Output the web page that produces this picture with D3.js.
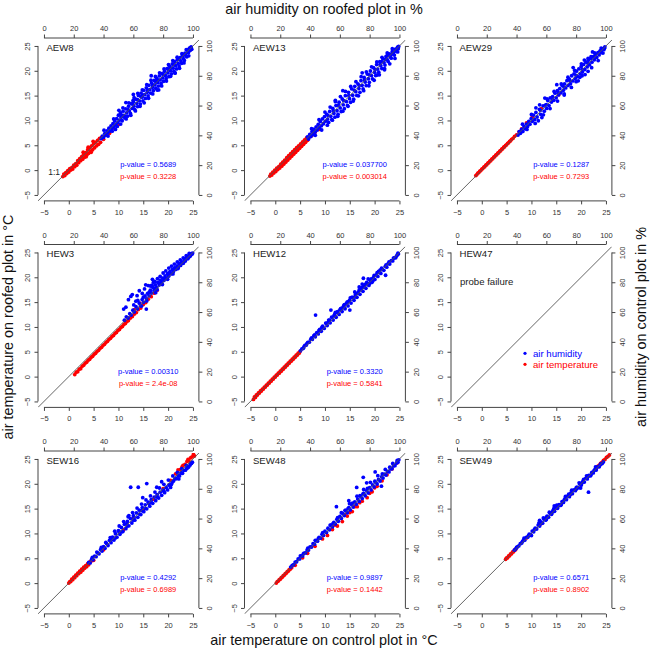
<!DOCTYPE html>
<html><head><meta charset="utf-8">
<script src="https://cdn.jsdelivr.net/npm/d3@7"></script>
<style>body{margin:0;background:#fff}svg{display:block}text{font-family:"Liberation Sans",Arial,Helvetica,sans-serif}</style>
</head><body><svg id="c" width="651" height="652"></svg>
<script>
// ---------- DATA ----------
const panelNames = ["AEW8","AEW13","AEW29","HEW3","HEW12","HEW47","SEW16","SEW48","SEW49"];
const pValueHumidity = ["0.5689","0.037700","0.1287","0.00310","0.3320",null,"0.4292","0.9897","0.6571"];
const pValueTemperature = ["0.3228","0.003014","0.7293","2.4e-08","0.5841",null,"0.6989","0.1442","0.8902"];
const temperatureTicks = [-5,0,5,10,15,20,25];
const humidityTicks = [0,20,40,60,80,100];
const legendLabels = ["air humidity","air temperature"];

// air humidity (%): [control, roofed]
const humAEW8 = [[38.5,37.8],[39.2,39.5],[40,38.6],[40.8,41.2],[41.5,40.1],[42.3,43],[42.9,41.6],[43.6,44.8],[44.2,42.9],[45,46.3],[45.6,44.5],[46.3,47.9],[47,45.8],[47.5,49.6],[48.2,47.1],[48.8,51.2],[49.5,48.6],[50,53.5],[50.6,50.2],[51.3,55],[51.8,52.1],[52.5,49.8],[53.1,56.2],[53.6,53.4],[54.3,51.7],[54.9,57.8],[55.4,55.1],[56.1,52.9],[56.8,59.6],[57.3,56.4],[58,54.7],[58.6,61.2],[59.2,58.1],[59.9,63.5],[60.4,59.6],[61,57.2],[61.7,64.3],[62.3,61.5],[62.9,59.3],[63.4,66.8],[64.1,63.2],[64.7,61],[65.2,68.4],[65.8,65.6],[66.4,63.1],[67,70.2],[67.6,67.4],[68.1,64.8],[68.7,71.9],[69.3,68.9],[69.9,66.5],[70.4,73.6],[71,70.7],[71.6,68.4],[72.2,75.1],[72.8,72.3],[73.4,70],[73.9,76.8],[74.5,73.9],[75.1,71.6],[75.7,78.2],[76.3,75.5],[76.8,73.1],[77.4,79.9],[78,77.2],[78.6,74.8],[79.1,81.4],[79.7,78.6],[80.3,76.3],[80.9,83],[81.5,80.2],[82,78],[82.6,84.8],[83.2,81.9],[83.8,79.4],[84.3,86.3],[84.9,83.5],[85.5,81.2],[86.1,87.9],[86.7,85.1],[87.2,83],[87.8,89.4],[88.4,86.8],[89,84.6],[89.5,90.8],[90.1,88.3],[90.7,86.5],[91.3,92.1],[91.9,89.9],[92.4,88.4],[93,93.6],[93.6,91.5],[94.2,90.3],[94.7,95.2],[95.3,93.4],[95.9,92.7],[96.5,97.4],[97,95.6],[97.6,98.5],[98.2,97.1],[98.8,99.3],[60,67.5],[72,80],[88,82],[77,70.5],[55,62],
[40.3,43.5],[43,39.5],[46.8,51],[48,44],[50.3,56.8],[51.5,47.6],[53,58.5],[55.2,51],[57,61.8],[58.3,53.5],[60.5,65.3],[61.4,56.4],[63,68.2],[64.5,59.5],[66,70.5],[67.3,61.8],[69,74],[70.2,64.9],[71.8,77],[73,67.8],[74.8,79.5],[76,70.4],[77.6,82],[79,73.2],[80.6,84.6],[82.2,76.4],[83.6,87.5],[85,79.6],[86.5,90.2],[88,81.7],[89.4,92.5],[91,85],[92.6,94.8],[94,88.6],[95.5,97.5],[97.2,93.4],[52.2,53.6],[56.5,57.2],[59.6,61.1],[62.8,64],[66.2,66.9],[69.6,70.4],[73,73.8],[76.6,77.1],[80,80.9],[83.5,84.1],[87,87.4],[90.5,91],[93.8,94.1],[96.7,96.2],[45.8,42.8],[49.2,46],[54,53],[60,62.5],[65,66],[75,76.2],[85,85.3],[95,94.6],[98.5,98.9],[99.2,97.8]];
const humAEW13 = [[38.2,38.9],[39,37.5],[39.8,40.6],[40.5,39.2],[41.3,42.4],[42,40.5],[42.7,44.1],[43.4,42.2],[44.1,45.7],[44.8,43.6],[45.5,47.4],[46.2,45.1],[46.9,49.3],[47.6,46.4],[48.3,51],[49,47.8],[49.7,52.6],[50.4,49.5],[51.1,54.3],[51.8,50.9],[52.5,48.7],[53.2,56],[53.9,52.8],[54.6,50.6],[55.3,58.1],[56,54.7],[56.7,52.2],[57.4,60],[58.1,56.5],[58.8,54.1],[59.5,62.3],[60.2,58.4],[60.9,56],[61.6,64.4],[62.3,60.5],[63,57.9],[63.7,66.6],[64.4,62.7],[65.1,60.1],[65.8,68.9],[66.5,64.6],[67.2,62.2],[67.9,71.2],[68.6,66.9],[69.3,64.3],[70,72.9],[70.7,69.3],[71.4,66.8],[72.1,74.6],[72.8,71.4],[73.5,68.9],[74.2,76.7],[74.9,73.6],[75.6,71.1],[76.3,78.9],[77,75.8],[77.7,73.4],[78.4,81.1],[79.1,78],[79.8,75.6],[80.5,83.2],[81.2,80.1],[81.9,77.9],[82.6,85.4],[83.3,82.3],[84,80.1],[84.7,87.5],[85.4,84.5],[86.1,82.4],[86.8,89.4],[87.5,86.7],[88.2,84.8],[88.9,91.3],[89.6,88.9],[90.3,87.2],[91,93],[91.7,90.9],[92.4,89.6],[93.1,94.6],[93.8,92.7],[94.5,91.8],[95.2,96.3],[95.9,94.5],[96.6,93.9],[97.3,97.8],[98,96.4],[98.7,99.2],[99.2,98.1],[62,70],[75,82],[85,80.5],[57,63.5],[90,84.8],
[41,44.5],[43.5,40],[46,50.5],[47.8,43.6],[50,55.6],[51.6,46.8],[53.5,59],[55,50.2],[57,62.6],[58.6,52.8],[60.4,66],[62,56.2],[63.8,69.5],[65.5,59.5],[67.3,72.8],[69,63],[70.8,76],[72.5,66.5],[74.3,79.4],[76,70],[77.8,82.6],[79.5,73.3],[81.3,86],[83,77],[84.8,89.3],[86.5,80.6],[88.3,92.4],[90,84],[91.8,95.3],[93.5,88],[95.2,98.2],[97,91.6],[98.8,96],[52,53.4],[55.6,56.5],[59,60.2],[62.6,63.3],[66,66.8],[69.6,70.4],[73,73.5],[76.6,77.2],[80,80.6],[83.6,84.2],[87,87.5],[90.6,91],[94,94.3],[97.5,97.3],[99.5,99.7],[88,89.5],[92,93.7],[96,95.6]];
const humAEW29 = [[41,40.2],[41.8,42.5],[42.6,41.4],[43.4,44],[44.2,42.6],[45,45.8],[45.8,44.4],[46.6,47.6],[47.4,46],[48.2,49.3],[49,47.5],[49.8,51.2],[50.6,49.4],[51.4,53.6],[52.2,50.7],[53,55.4],[53.8,52.3],[54.6,49.8],[55.4,57.5],[56.2,54.1],[57,51.9],[57.8,59.8],[58.6,56.2],[59.4,60.3],[60.2,58.1],[61,63.4],[61.8,60],[62.6,65.1],[63.4,62.4],[64.2,66],[65,63.5],[65.8,68.3],[66.6,65.2],[67.4,70],[68.2,67.1],[69,71.3],[69.8,68.6],[70.6,73.4],[71.4,70.2],[72.2,74.5],[73,71.8],[73.8,76.7],[74.6,73.5],[75.4,77.8],[76.2,74.6],[77,80],[77.8,76.5],[78.6,81.3],[79.4,78.2],[80.2,83.1],[81,79.4],[81.8,84.6],[82.6,81.3],[83.4,86.2],[84.2,82.5],[85,87.6],[85.8,84.2],[86.6,89.1],[87.4,85.9],[88.2,90.4],[89,87.3],[89.8,91.6],[90.6,89.1],[91.4,92.9],[92.2,90.7],[93,94.2],[93.8,92.3],[94.6,95.5],[95.4,94],[96.2,96.9],[97,95.6],[97.8,98.1],[98.6,97.5],[99.3,99.4],[59,65],[67,74],[80,76],[84,80],[88,83],[72,67],[53,58.5],[91,96],
[44,47.5],[47,44],[50,54],[52.5,48],[55.5,60.5],[58,53.8],[60.5,64.5],[62.5,58],[65.2,69.5],[67.5,63],[70,74.5],[72,67.8],[74.5,79],[76.8,72.2],[79,83.6],[81.4,76.6],[83.5,88],[86,80.8],[88,91.6],[90.4,85.4],[92.4,95.3],[94.8,90.2],[96.8,98.6],[98,95.2],[56,56.8],[60,60.6],[64,64.5],[68,68.6],[72,72.3],[76,76.4],[80,80.2],[84,84.3],[88,88.2],[92,92.1],[96,96.1],[99,98.4],[85.5,90.5],[78,85.5],[82.5,79],[90,92.8]];
const humHEW3 = [[54,54.5],[55.3,56.8],[56.5,56],[57.6,58.9],[58.5,58],[59.7,61.2],[60.6,60.1],[61.8,63.6],[62.7,62.2],[63.9,66],[64.8,64.3],[65.9,68.4],[66.8,66.5],[67.9,70.8],[68.8,68.9],[69.6,72.6],[70.5,70.9],[71.4,74.7],[72.2,72.8],[73.1,76.4],[74,74.6],[74.8,78.3],[75.6,76.4],[76.5,79.9],[77.3,78.1],[78.1,81.4],[78.9,79.8],[79.7,82.8],[80.5,81.2],[81.3,84.2],[82.1,82.6],[82.9,85.7],[83.7,84.1],[84.5,87.1],[85.3,85.6],[86.1,88.4],[86.9,87.2],[87.7,89.7],[88.5,88.6],[89.3,90.9],[90.1,89.9],[90.9,92.3],[91.7,91.3],[92.5,93.6],[93.3,92.7],[94.1,95],[94.9,94.2],[95.7,96.5],[96.5,95.7],[97.3,97.8],[98.1,97.4],[98.9,99.2],[99.5,98.9],[53.5,62],[55,63.3],[56.7,68.3],[58.3,70.5],[59.3,71.7],[61.7,67.3],[62.5,71],[64,74.3],[66.7,70],[68.3,78.3],[70.7,73.3],[71.5,77.5],[73.5,80],[75,73],[65.5,64],[69,67.5],[68.7,62],
[72.5,78],[74.5,80.5],[76.2,82.5],[78,84],[80,86.2],[81.8,87.6],[83.8,89.5],[85.6,90.8],[87.5,92.2],[89.5,93.6],[91.5,95],[93.5,96.4],[95.5,97.8],[97.5,99.3],[76,75],[79.5,78.5],[83,82],[86.6,85.6],[90,89.2],[93.6,92.9],[97,96.5],[99.8,99.6],[74.5,76],[77.5,79],[81,82.5],[84.5,86],[88,89.4],[91.5,92.6],[95,95.8],[98.5,98.5],[63,67.8],[66,72.5],[60.3,64.8],[67.5,75.5],[72.8,82],[70,77.8]];
const humHEW12 = [[33.5,34],[34.5,35.2],[35.5,35.7],[36.5,37.6],[37.5,37.9],[38.5,39.7],[39.5,39.8],[40.5,41.8],[41.5,41.6],[42.5,44],[43.5,43.4],[44.5,46.2],[45.5,45.3],[46.5,48.4],[47.5,47.1],[48.5,50.5],[49.5,49],[50.5,52.6],[51.5,50.9],[52.5,54.6],[53.5,52.8],[54.5,56.5],[55.5,54.6],[56.5,58.4],[57.5,56.5],[58.5,60.3],[59.5,58.4],[60.5,62.2],[61.5,60.3],[62.5,64.1],[63.5,62.2],[64.5,66],[65.5,64.1],[66.5,67.9],[67.5,66],[68.5,69.8],[69.5,67.9],[70.5,71.7],[71.5,69.9],[72.5,73.6],[73.5,71.9],[74.5,75.5],[75.5,73.9],[76.5,77.4],[77.5,75.9],[78.5,79.3],[79.5,77.9],[80.5,81.2],[81.5,79.9],[82.5,83.1],[83.5,81.9],[84.5,85],[85.5,83.9],[86.5,86.9],[87.5,85.9],[88.5,88.8],[89.5,88],[90.5,90.7],[91.5,90.1],[92.5,92.6],[93.5,92.2],[94.5,94.5],[95.5,94.3],[96.5,96.4],[97.5,96.4],[98.5,98.3],[99.3,99],[52,52.9],[57,59.8],[62,62.9],[67,69.5],[72,72.6],[77,78.6],[82,80.6],[87,88.1],[60,61.5],[65,66.8],[70,70.1],[75,76.5],[80,79.2],[85,86.4],[43.7,58],[54,61.3],[66.7,61.3],[75.8,82.7],[90.7,84.7],
[36,36.8],[41,42.6],[46,47.7],[51,52.4],[56,57.4],[61,62.5],[66,67.2],[71,72.3],[76,77],[81,82.2],[86,87.3],[91,91.6],[96,96.2],[99,99.6],[38,39],[43,44.7],[48,49.8],[53,54.6],[58,59.8],[63,64.9],[68,69.9],[73,74.8],[78,79.9],[83,84.6],[88,89.4],[93,93.6],[98,97.6],[70,73.5],[75,78.8],[79,82.2],[73,76.8]];
const humHEW47 = [];
const humSEW16 = [[30,30.5],[31,30.2],[32,32.6],[33,32.3],[34,34.8],[35,34.4],[36,36.9],[37,36.3],[38,39.1],[39,38.2],[40,41.2],[41,40],[42,43.3],[43,41.9],[44,45.4],[45,43.8],[46,47.6],[47,45.6],[48,49.8],[49,47.5],[50,51.9],[51,49.4],[52,54],[53,51.3],[54,56.1],[55,53.2],[56,58.1],[57,55.1],[58,60],[59,57],[60,61.9],[61,58.9],[62,63.8],[63,60.8],[64,65.6],[65,62.7],[66,67.4],[67,64.6],[68,69.2],[69,66.5],[70,71],[71,68.3],[72,72.7],[73,70.2],[74,74.4],[75,72],[76,76.1],[77,73.8],[78,77.7],[79,75.6],[80,79.3],[81,77.4],[82,80.9],[83,79.2],[84,82.5],[85,80.9],[86,84],[87,85.2],[88,87],[89,86.8],[90,88.8],[91,88.6],[92,90.8],[93,90.4],[94,92.4],[95,92.5],[96,93.8],[97,94.5],[98,95.8],[99,97],[99.6,97.8],[55.5,56.5],[60.5,60.6],[65.5,65.3],[70.5,69.9],[75.5,74.5],[80.5,78.6],[85.5,82.8],[90.5,86.6],[45.5,46],[50.5,50.8],[63.3,81],[75.7,81],[66.3,74],[79,84.7],[57,62],
[32.5,34],[35.5,37.5],[38.5,40.6],[41.5,44],[44.5,47.2],[47.5,51.5],[50.5,55],[53.5,58],[56.5,61.2],[59.5,64],[62.5,67],[65.5,69.7],[68.5,72.5],[71.5,75.2],[74.5,77.8],[77.5,80.5],[80.5,83],[83.5,85.8],[86.5,88.6],[89.5,91],[92.5,93.5],[95.5,95.6],[98.5,97.2],[48,47],[52,51],[56,55],[60,59],[64,63],[68,66.8],[72,70.8],[76,74.6],[80,78.6],[84,82.6],[88,86.6],[92,90.5],[96,93.8],[58.2,81],[69,83.5]];
const humSEW48 = [[27,27.4],[28,28.5],[29,29.1],[30,30.8],[31,31],[32,32.9],[33,32.9],[34,34.8],[35,34.9],[36,36.8],[37,36.9],[38,38.9],[39,38.9],[40,41],[41,40.9],[42,43.1],[43,42.8],[44,45.2],[45,44.8],[46,47.3],[47,46.8],[48,49.4],[49,48.7],[50,51.5],[51,50.6],[52,53.5],[53,52.5],[54,55.5],[55,54.4],[56,57.5],[57,56.3],[58,59.5],[59,58.2],[60,61.5],[61,60.1],[62,63.5],[63,62],[64,65.4],[65,63.9],[66,67.4],[67,65.8],[68,69.3],[69,67.7],[70,71.2],[71,69.6],[72,73.1],[73,71.5],[74,75],[75,73.4],[76,76.9],[77,75.3],[78,78.8],[79,77.2],[80,80.7],[81,79.2],[82,82.6],[83,81.2],[84,84.4],[85,83.2],[86,86.2],[87,85.2],[88,88],[89,87.2],[90,89.8],[91,89.2],[92,91.6],[93,91.3],[94,93.4],[95,93.4],[96,95.3],[97,95.5],[98,97.3],[99,97.8],[99.6,99.4],[35.5,36.3],[45.5,46.5],[55.5,56.8],[65.5,66.7],[75.5,76.5],[75.7,87.7],[71.3,80.9],[57.7,68],[87.9,81.7],[83.7,91.3],[78,84],[66,72],
[33.5,34.9],[38.5,40.2],[43.5,45.4],[48.5,50.6],[53.5,55.6],[58.5,60.6],[63.5,65.5],[68.5,70.4],[73.5,75.3],[78.5,80.2],[83.5,85.1],[88.5,89.9],[93.5,94.5],[98.5,99],[61,63.9],[66.5,70],[71.5,75],[76,79.5],[80.5,84.3],[85.5,88.8],[90.5,93],[95.5,97]];
const humSEW49 = [[38.5,38.8],[39.5,39.7],[40.5,41],[41.5,41.6],[42.5,43.1],[43.5,43.6],[44.5,45.2],[45.5,45.5],[46.5,47.3],[47.5,47.5],[48.5,49.5],[49.5,49.2],[50.5,51.6],[51.5,51.1],[52.5,53.5],[53.5,53],[54.5,55.6],[55.5,55],[56.5,57.6],[57.5,56.9],[58.5,59.6],[59.5,58.9],[60.5,61.6],[61.5,60.9],[62.5,63.5],[63.5,62.9],[64.5,65.5],[65.5,64.9],[66.5,67.4],[67.5,66.9],[68.5,69.4],[69.5,68.8],[70.5,71.3],[71.5,70.8],[72.5,73.3],[73.5,72.7],[74.5,75.2],[75.5,74.7],[76.5,77.2],[77.5,76.7],[78.5,79.2],[79.5,78.7],[80.5,81.1],[81.5,80.6],[82.5,83.1],[83.5,82.5],[84.5,85],[85.5,84.5],[86.5,87],[87.5,86.6],[88.5,88.9],[89.5,88.6],[90.5,90.9],[91.5,90.6],[92.5,92.8],[93.5,92.6],[94.5,94.7],[95.5,94.7],[96.5,96.6],[97.5,96.9],[98.3,98],[45,46.8],[50,48.6],[55,57],[60,59.3],[65,66.6],[70,69.3],[75,76.3],[80,79.7],[85,86.2],[90,89.3],[88.3,77.7],[65.3,68.5],[83,80.5],[55.5,58.8],
[40,40.6],[44,44.7],[48,48.6],[52,52.8],[56,56.5],[60,60.9],[64,64.3],[68,68.5],[72,72.6],[76,76.2],[80,80.5],[84,84.1],[88,88.4],[92,92.2],[96,95.9],[62,64.3],[67,69],[72.8,74.8],[77,79],[82,84],[87,88.7],[93,94.6],[58,60.4]];

// air temperature (°C): [control, roofed]
const tmpAEW8 = [[-1.2,-1.3],[-1,-0.8],[-0.8,-1.1],[-0.6,-0.5],[-0.4,-0.7],[-0.2,-0.1],[0,-0.4],[0.2,0.3],[0.4,0],[0.6,0.5],[0.8,0.2],[1,1],[1.2,0.7],[1.4,1.3],[1.6,1],[1.8,1.9],[2,1.5],[2.2,2.3],[2.4,1.9],[2.6,2.7],[2.8,2.2],[3,3.2],[3.2,2.6],[3.4,3.5],[3.6,3],[3.8,4.1],[4,3.4],[4.2,4.5],[4.4,3.8],[4.6,4.9],[4.8,4.1],[5,5.3],[5.2,4.5],[5.4,5.6],[5.6,4.9],[5.8,6],[6,5.2],[6.2,6.4],[6.4,5.6],[6.6,6.6],[7,6.2],[7.5,7.1],[8.2,7.4],[9,8.5],[10,9.2],[2.9,3.6],[3.9,4.6],[4.9,5.8],[3.5,2.7],[4.5,3.6]];
const tmpAEW13 = [[-1.1,-1.2],[-0.9,-0.8],[-0.7,-1],[-0.5,-0.4],[-0.3,-0.6],[-0.1,0],[0.1,-0.3],[0.3,0.4],[0.5,0.1],[0.7,0.7],[0.9,0.4],[1.1,1.2],[1.3,0.8],[1.5,1.6],[1.7,1.2],[1.9,2],[2.1,1.6],[2.3,2.5],[2.5,2],[2.7,2.9],[2.9,2.4],[3.1,3.3],[3.3,2.8],[3.5,3.7],[3.7,3.2],[3.9,4.1],[4.1,3.6],[4.3,4.5],[4.5,4],[4.7,4.9],[4.9,4.4],[5.1,5.3],[5.3,4.8],[5.5,5.7],[5.7,5.2],[5.9,6.1],[6.1,5.6],[6.3,6.5],[6.5,6],[6.8,6.6],[7.3,6.9],[8,7.6],[8.8,8.2]];
const tmpAEW29 = [[-1.2,-1.1],[-1,-0.9],[-0.8,-0.6],[-0.6,-0.5],[-0.4,-0.2],[-0.2,-0.1],[0,0.2],[0.2,0.3],[0.4,0.6],[0.6,0.7],[0.8,1],[1,1.1],[1.2,1.4],[1.4,1.5],[1.6,1.8],[1.8,1.9],[2,2.2],[2.2,2.3],[2.4,2.6],[2.6,2.7],[2.8,3],[3,3.1],[3.2,3.4],[3.4,3.5],[3.6,3.8],[3.8,3.9],[4,4.2],[4.2,4.3],[4.4,4.6],[4.6,4.7],[4.8,5],[5,5.1],[5.2,5.4],[5.4,5.5],[5.6,5.8],[5.8,5.9],[6,6.2],[6.3,6.4],[6.6,6.8],[7,7.1],[7.5,7.7],[8,8.3],[9,9.5],[10.2,10.8],[12,12.4],[15.5,15.2],[17.5,18.2]];
const tmpHEW3 = [[1.2,0.4],[1.5,0.9],[1.8,1],[2.1,1.5],[2.4,1.6],[2.7,2.1],[3,2.3],[3.3,2.7],[3.6,2.9],[3.9,3.3],[4.2,3.5],[4.5,3.9],[4.8,4.1],[5.1,4.5],[5.4,4.7],[5.7,5.1],[6,5.3],[6.3,5.7],[6.6,5.9],[6.9,6.3],[7.2,6.5],[7.5,6.9],[7.8,7.1],[8.1,7.5],[8.4,7.7],[8.7,8.1],[9,8.3],[9.3,8.7],[9.6,8.9],[9.9,9.3],[10.2,9.5],[10.5,9.9],[10.8,10.1],[11.1,10.5],[11.4,10.7],[11.7,11.1],[12,11.3],[12.4,11.8],[12.8,12.1],[13.2,12.6],[13.6,12.9],[14,13.5],[14.5,13.8],[15,14.5],[15.5,14.9],[16,15.6],[16.6,16.1],[17.2,16.8],[17.8,17.4],[14.3,14.8],[13.2,13.5]];
const tmpHEW12 = [[-4.4,-4.6],[-4.2,-4.1],[-4,-4.2],[-3.8,-3.7],[-3.6,-3.7],[-3.4,-3.3],[-3.2,-3.3],[-3,-2.9],[-2.8,-2.9],[-2.6,-2.5],[-2.4,-2.5],[-2.2,-2.1],[-2,-2.1],[-1.8,-1.7],[-1.6,-1.7],[-1.4,-1.3],[-1.2,-1.3],[-1,-0.9],[-0.8,-0.9],[-0.6,-0.5],[-0.4,-0.5],[-0.2,-0.1],[0,-0.1],[0.2,0.3],[0.4,0.3],[0.6,0.7],[0.8,0.7],[1,1.1],[1.2,1.1],[1.4,1.5],[1.6,1.5],[1.8,1.9],[2,1.9],[2.2,2.3],[2.4,2.3],[2.6,2.7],[2.8,2.7],[3,3.1],[3.2,3.1],[3.4,3.5],[3.6,3.5],[3.8,3.9],[4,3.9],[4.2,4.3],[4.4,4.3],[4.6,4.7],[4.8,4.7],[5,5.1]];
const tmpHEW47 = [];
const tmpSEW16 = [[0,0],[0.2,0.3],[0.4,0.3],[0.6,0.8],[0.8,0.7],[1,1.2],[1.2,1.1],[1.4,1.6],[1.6,1.5],[1.8,2],[2,1.9],[2.2,2.4],[2.4,2.2],[2.6,2.8],[2.8,2.6],[3,3.2],[3.2,3],[3.4,3.5],[3.6,3.3],[3.8,3.9],[4,3.7],[4.3,4.3],[4.6,4.5],[5,4.6],[7,6.7],[9,9],[11,10.7],[13,13.1],[15,14.8],[17,16.9],[19,19],[20.5,20.7],[21.5,22],[22,22.8],[22.5,22.9],[23,23.7],[23.4,23.9],[23.8,24.5],[24.2,24.6],[24.5,25.2],[24.8,25.4],[25.1,25.9],[25.3,25.6],[22.8,23.4],[24,24.9]];
const tmpSEW48 = [[0.2,0],[0.4,0.3],[0.6,0.4],[0.8,0.7],[1,0.8],[1.2,1.1],[1.4,1.2],[1.6,1.5],[1.8,1.6],[2,1.9],[2.2,2],[2.4,2.3],[2.6,2.4],[2.8,2.7],[3,2.8],[3.3,3.1],[4,3.6],[5.5,5.1],[6.5,6],[8,7.4],[9.5,8.9],[10.5,9.6],[11.5,10.8],[12.5,11.5],[13.5,12.4],[14.5,13.5],[15.5,14.4],[16.5,15.4],[17.5,16.5],[18.5,17.2],[19.5,18.4],[20.5,19.5],[21.5,20.6],[22.5,21.8],[23.5,23],[24.5,24.2],[12,11.7],[16,15.4],[19,18.1],[14,13.8],[15,14.2],[17,16.2],[20,19.2]];
const tmpSEW49 = [[4.8,4.8],[5,5.1],[5.2,5.1],[5.4,5.5],[5.6,5.5],[5.8,5.9],[6,5.9],[6.2,6.3],[6.4,6.3],[6.6,6.7],[6.8,6.7],[7,7.1],[9,9.1],[12,12],[15,15.1],[18,18],[21,21.1],[23,23.1],[23.3,23.5],[23.6,23.7],[23.9,24.1],[24.2,24.3],[24.5,24.7],[24.8,24.9],[25.1,25.3],[25.4,25.5],[25.7,25.8]];

const humiditySeries = [humAEW8,humAEW13,humAEW29,humHEW3,humHEW12,humHEW47,humSEW16,humSEW48,humSEW49];
const temperatureSeries = [tmpAEW8,tmpAEW13,tmpAEW29,tmpHEW3,tmpHEW12,tmpHEW47,tmpSEW16,tmpSEW48,tmpSEW49];

// ---------- DRAW ----------
const svg = d3.select("#c");
const FONT = "Liberation Sans, Arial, Helvetica, sans-serif";
const BLUE = "#0000FF", RED = "#FF0000", AX = "#444";
const SIZE = 160.9, STEP = 206.5, R = 1.9;

function finishAxis(a, scale, ticks, vertical) {
  a.select(".domain").remove();
  a.attr("color", AX).attr("font-size", 7.5).attr("font-family", FONT);
  const p0 = scale(ticks[0]), p1 = scale(ticks[ticks.length - 1]);
  a.append("line")
    .attr("x1", vertical ? 0 : p0).attr("x2", vertical ? 0 : p1)
    .attr("y1", vertical ? p0 : 0).attr("y2", vertical ? p1 : 0)
    .attr("stroke", AX).attr("stroke-width", 1);
  a.selectAll(".tick line").attr("stroke-width", 1);
  a.selectAll(".tick text").attr("fill", "#333");
}

panelNames.forEach((name, i) => {
  const col = i % 3, row = Math.floor(i / 3);
  const ox = 38 + STEP * col, oy = 40 + STEP * row;
  const x = d3.scaleLinear().domain([-6.2, 26.2]).range([ox, ox + SIZE]);
  const y = d3.scaleLinear().domain([-6.2, 26.2]).range([oy + SIZE, oy]);
  const xh = d3.scaleLinear().domain([-4, 104]).range([ox, ox + SIZE]);
  const yh = d3.scaleLinear().domain([-4, 104]).range([oy + SIZE, oy]);
  const g = svg.append("g");

  const clipId = "clip" + i;
  g.append("clipPath").attr("id", clipId).append("rect")
    .attr("x", ox).attr("y", oy).attr("width", SIZE).attr("height", SIZE);
  const plot = g.append("g").attr("clip-path", `url(#${clipId})`);

  plot.selectAll("circle.t").data(temperatureSeries[i]).join("circle")
    .attr("class", "t").attr("cx", d => x(d[0])).attr("cy", d => y(d[1]))
    .attr("r", R).attr("fill", RED);
  plot.selectAll("circle.h").data(humiditySeries[i]).join("circle")
    .attr("class", "h").attr("cx", d => xh(d[0])).attr("cy", d => yh(d[1]))
    .attr("r", R).attr("fill", BLUE);

  plot.append("line")
    .attr("x1", x(-6.2)).attr("y1", y(-6.2)).attr("x2", x(26.2)).attr("y2", y(26.2))
    .attr("stroke", "#555").attr("stroke-width", 0.9);

  const ab = g.append("g").attr("transform", `translate(0,${oy + SIZE})`)
    .call(d3.axisBottom(x).tickValues(temperatureTicks).tickSize(3.5).tickSizeOuter(0).tickFormat(d3.format("d")));
  finishAxis(ab, x, temperatureTicks, false);
  ab.selectAll(".tick text").attr("y", 14).attr("dy", 0);

  const at = g.append("g").attr("transform", `translate(0,${oy - 2})`)
    .call(d3.axisTop(xh).tickValues(humidityTicks).tickSize(3.5).tickSizeOuter(0).tickFormat(d3.format("d")));
  finishAxis(at, xh, humidityTicks, false);
  at.selectAll(".tick text").attr("y", -7).attr("dy", 0);

  const al = g.append("g").attr("transform", `translate(${ox},0)`)
    .call(d3.axisLeft(y).tickValues(temperatureTicks).tickSize(3.5).tickSizeOuter(0).tickFormat(d3.format("d")));
  finishAxis(al, y, temperatureTicks, true);
  al.selectAll(".tick text").attr("x", 0).attr("dy", 0)
    .attr("text-anchor", "middle").attr("transform", "translate(-8,0) rotate(-90)");

  const ar = g.append("g").attr("transform", `translate(${ox + SIZE},0)`)
    .call(d3.axisRight(yh).tickValues(humidityTicks).tickSize(3.5).tickSizeOuter(0).tickFormat(d3.format("d")));
  finishAxis(ar, yh, humidityTicks, true);
  ar.selectAll(".tick text").attr("x", 0).attr("dy", 0)
    .attr("text-anchor", "middle").attr("transform", "translate(13.5,0) rotate(-90)");

  g.append("text").attr("x", x(-5) + 2.5).attr("y", y(25) + 4.7)
    .attr("font-size", 9.6).attr("fill", "#222").text(name);

  if (pValueHumidity[i] !== null) {
    g.append("text").attr("x", x(16)).attr("y", y(-5) - 27.8).attr("text-anchor", "middle")
      .attr("font-size", 7.5).attr("fill", BLUE).text("p-value = " + pValueHumidity[i]);
    g.append("text").attr("x", x(16)).attr("y", y(-5) - 15.8).attr("text-anchor", "middle")
      .attr("font-size", 7.5).attr("fill", RED).text("p-value = " + pValueTemperature[i]);
  } else {
    g.append("text").attr("x", ox + 9).attr("y", oy + 38.5)
      .attr("font-size", 9.6).attr("fill", "#222").text("probe failure");
    [BLUE, RED].forEach((colr, k) => {
      g.append("circle").attr("cx", ox + 74).attr("cy", oy + 106.8 + 11 * k).attr("r", 1.6).attr("fill", colr);
      g.append("text").attr("x", ox + 82).attr("y", oy + 110.8 + 11 * k)
        .attr("font-size", 9.6).attr("fill", colr).text(legendLabels[k]);
    });
  }
  if (i === 0) {
    g.append("text").attr("x", x(-5) + 4.3).attr("y", y(-5) - 19.5)
      .attr("font-size", 8.5).attr("fill", "#222").text("1:1");
  }
});

svg.append("text").attr("x", 324).attr("y", 13.5).attr("text-anchor", "middle")
  .attr("font-size", 14.4).attr("fill", "#111").text("air humidity on roofed plot in %");
svg.append("text").attr("x", 324).attr("y", 645).attr("text-anchor", "middle")
  .attr("font-size", 14.4).attr("fill", "#111").text("air temperature on control plot in °C");
svg.append("text").attr("transform", "translate(12.5,327) rotate(-90)").attr("text-anchor", "middle")
  .attr("font-size", 14.4).attr("fill", "#111").text("air temperature on roofed plot in °C");
svg.append("text").attr("transform", "translate(645.5,327) rotate(-90)").attr("text-anchor", "middle")
  .attr("font-size", 14.4).attr("fill", "#111").text("air humidity on control plot in %");
</script></body></html>
